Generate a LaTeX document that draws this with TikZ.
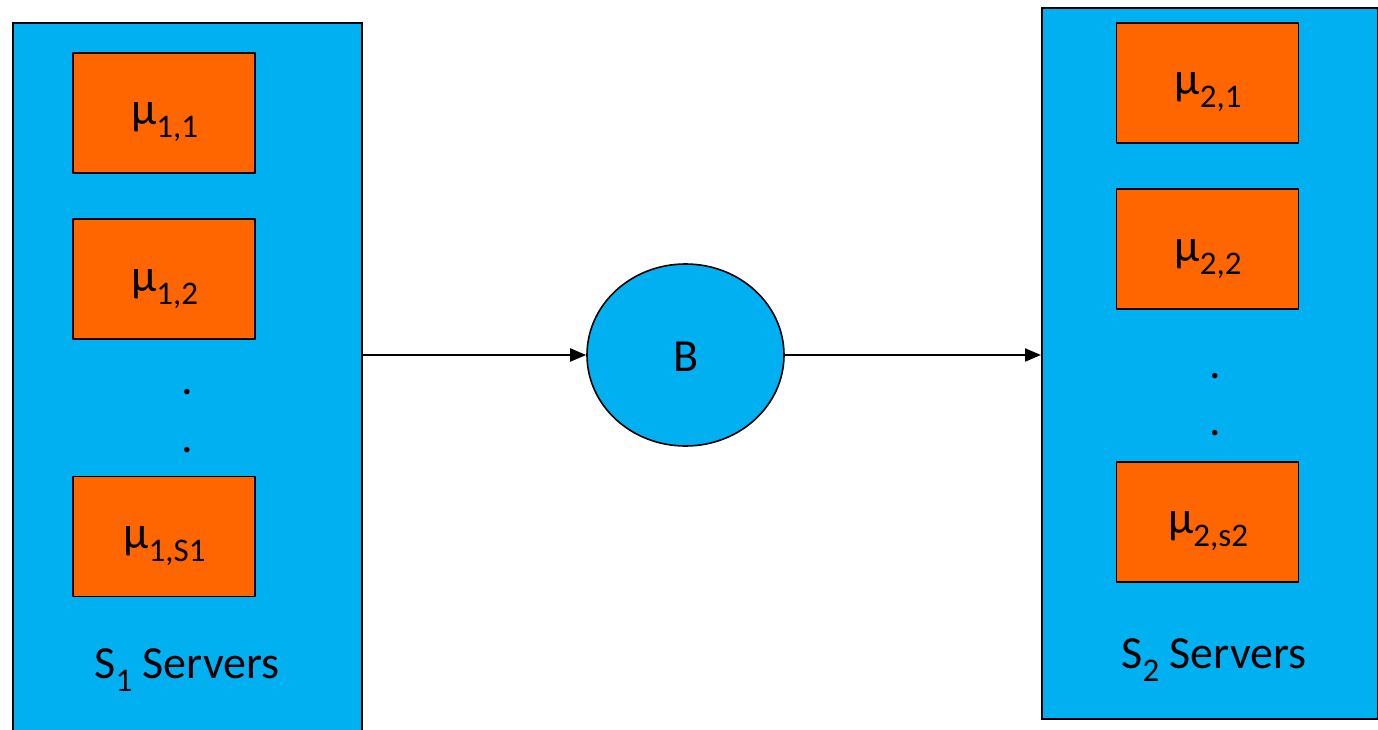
\documentclass[tikz,border=0pt]{standalone}
\usepackage{fontspec}
\setmainfont{Carlito}
\usetikzlibrary{arrows.meta,shapes.geometric}
\definecolor{panelblue}{HTML}{00B0F0}
\definecolor{serverorange}{HTML}{FF6600}
\newcommand\mainsize{\fontsize{46}{54}\selectfont}
\newcommand\lowsub[1]{\raisebox{-13pt}{\fontsize{33}{38}\selectfont #1}}
\tikzset{
  panel/.style={draw=black, line width=2pt, fill=panelblue, inner sep=0pt, anchor=north west},
  server/.style={draw=black, line width=1.6pt, fill=serverorange,
    minimum width=182pt, minimum height=120pt, inner sep=0pt},
  buffer/.style={ellipse, draw=black, line width=1.6pt, fill=panelblue,
    minimum width=197pt, minimum height=182pt, inner sep=0pt},
  link/.style={line width=2pt, -{Triangle[length=16pt,width=13pt]}},
  txt/.style={font=\mainsize, inner sep=0pt, anchor=base},
}
\begin{document}
\begin{tikzpicture}[x=1pt, y=-1pt]
  \useasboundingbox (0,0) rectangle (1378,730);
  % first stage: pool of S1 servers
  \node[panel, minimum width=349pt, minimum height=730pt] (P1) at (12,22) {};
  \node[server] (m11) at (164,113) {};
  \node[server] (m12) at (164,279) {};
  \node[server] (m1s) at (164,536.5) {};
  \node[txt] at (164.5,125) {μ\lowsub{1,1}};
  \node[txt] at (164.5,291) {μ\lowsub{1,2}};
  \node[txt] at (164.5,548) {μ\lowsub{1,S1}};
  \node[txt] (d11) at (187,394) {.};
  \node[txt] (d12) at (187,452) {.};
  \node[txt] (t1) at (187,678) {S\lowsub{1} Servers};
  % second stage: pool of S2 servers
  \node[panel, minimum width=336pt, minimum height=711pt] (P2) at (1041,7) {};
  \node[server] (m21) at (1207.5,83) {};
  \node[server] (m22) at (1207.5,249) {};
  \node[server] (m2s) at (1207.5,522) {};
  \node[txt] at (1208,95) {μ\lowsub{2,1}};
  \node[txt] at (1208,261) {μ\lowsub{2,2}};
  \node[txt] at (1208,533) {μ\lowsub{2,s2}};
  \node[txt] (d21) at (1215,378) {.};
  \node[txt] (d22) at (1215,435) {.};
  \node[txt] (t2) at (1214,668) {S\lowsub{2} Servers};
  % buffer between the stages
  \node[buffer] (B) at (685.5,355) {};
  \node[txt] at (686.5,371) {B};
  \draw[link] (P1.east |- B.west) -- (B.west);
  \draw[link] (B.east) -- (B.east -| P2.west);
\end{tikzpicture}
\end{document}
